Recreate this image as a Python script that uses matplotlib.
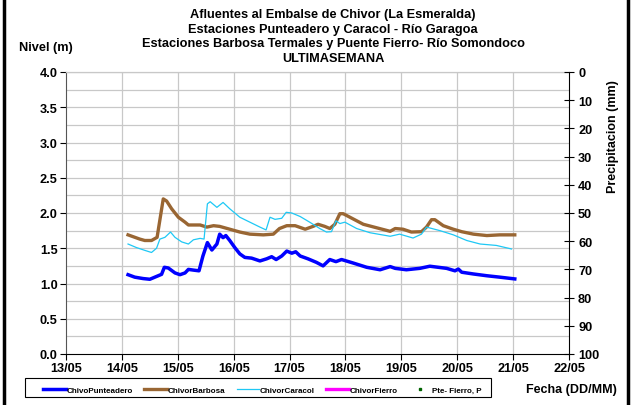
import matplotlib
matplotlib.use("Agg")
import matplotlib.pyplot as plt
from matplotlib.lines import Line2D
from matplotlib.patches import Rectangle

plt.rcParams['font.family'] = ['Liberation Sans', 'DejaVu Sans']
plt.rcParams['font.weight'] = 'bold'

# Fechas en días de mayo (fracción = hora del día)
punteadero_t = [14.11, 14.23, 14.38, 14.50, 14.62, 14.71, 14.76, 14.83, 14.95, 15.04,
                15.13, 15.19, 15.28, 15.38, 15.45, 15.53, 15.61, 15.70, 15.75, 15.81,
                15.86, 15.93, 16.02, 16.11, 16.20, 16.32, 16.47, 16.59, 16.68, 16.76,
                16.86, 16.95, 17.04, 17.11, 17.19, 17.33, 17.48, 17.60, 17.72, 17.83,
                17.93, 18.14, 18.38, 18.62, 18.80, 18.89, 19.09, 19.33, 19.51, 19.81,
                19.96, 20.02, 20.08, 20.29, 20.53, 20.76, 21.03]
punteadero_v = [1.125, 1.09, 1.07, 1.06, 1.10, 1.13, 1.23, 1.22, 1.15, 1.125,
                1.15, 1.20, 1.19, 1.18, 1.39, 1.58, 1.475, 1.56, 1.70, 1.65,
                1.68, 1.61, 1.51, 1.42, 1.37, 1.36, 1.32, 1.35, 1.38, 1.34,
                1.39, 1.46, 1.43, 1.45, 1.39, 1.35, 1.30, 1.25, 1.34, 1.31,
                1.34, 1.29, 1.23, 1.195, 1.24, 1.215, 1.195, 1.215, 1.245, 1.215,
                1.18, 1.205, 1.16, 1.135, 1.11, 1.09, 1.065]

barbosa_t = [14.11, 14.32, 14.41, 14.53, 14.63, 14.74, 14.80, 14.89, 15.01, 15.13,
             15.19, 15.40, 15.52, 15.64, 15.75, 15.93, 16.11, 16.29, 16.53, 16.71,
             16.82, 16.95, 17.10, 17.28, 17.42, 17.51, 17.63, 17.72, 17.81, 17.90,
             17.96, 18.08, 18.32, 18.56, 18.80, 18.89, 19.03, 19.18, 19.36, 19.45,
             19.54, 19.60, 19.75, 19.93, 20.08, 20.29, 20.53, 20.76, 21.03]
barbosa_v = [1.69, 1.63, 1.61, 1.61, 1.655, 2.20, 2.17, 2.06, 1.94, 1.87,
             1.83, 1.83, 1.80, 1.82, 1.81, 1.77, 1.73, 1.70, 1.69, 1.70,
             1.78, 1.82, 1.82, 1.77, 1.81, 1.84, 1.81, 1.78, 1.84, 1.99,
             1.99, 1.94, 1.84, 1.79, 1.74, 1.78, 1.77, 1.73, 1.735, 1.80,
             1.905, 1.905, 1.82, 1.77, 1.735, 1.70, 1.68, 1.69, 1.69]

caracol_t = [14.11, 14.26, 14.41, 14.53, 14.62, 14.68, 14.77, 14.87, 14.95, 15.07,
             15.19, 15.28, 15.40, 15.47, 15.53, 15.58, 15.70, 15.81, 15.93, 16.11,
             16.29, 16.47, 16.58, 16.65, 16.74, 16.86, 16.94, 17.04, 17.19, 17.36,
             17.54, 17.66, 17.75, 17.83, 17.90, 17.99, 18.20, 18.44, 18.80, 18.97,
             19.21, 19.36, 19.45, 19.69, 19.93, 20.17, 20.41, 20.70, 20.97]
caracol_v = [1.56, 1.51, 1.47, 1.44, 1.50, 1.63, 1.655, 1.73, 1.655, 1.59,
             1.56, 1.62, 1.64, 1.63, 2.13, 2.16, 2.08, 2.15, 2.06, 1.94,
             1.87, 1.80, 1.76, 1.94, 1.91, 1.925, 2.01, 2.00, 1.95, 1.87,
             1.78, 1.73, 1.735, 1.89, 1.85, 1.87, 1.78, 1.72, 1.67, 1.70,
             1.645, 1.70, 1.80, 1.75, 1.69, 1.61, 1.56, 1.54, 1.49]

fecha_ticks = [13, 14, 15, 16, 17, 18, 19, 20, 21, 22]
fecha_labels = ["13/05", "14/05", "15/05", "16/05", "17/05",
                "18/05", "19/05", "20/05", "21/05", "22/05"]
nivel_ticks = [0.0, 0.5, 1.0, 1.5, 2.0, 2.5, 3.0, 3.5, 4.0]
precip_ticks = [0, 10, 20, 30, 40, 50, 60, 70, 80, 90, 100]

fig = plt.figure(figsize=(6.32, 4.06), dpi=100)
ax = fig.add_axes([66 / 632, 51 / 406, 503 / 632, 282 / 406])

grid_c = '#c8c8c8'
for v in [i * 0.25 for i in range(1, 17)]:
    ax.axhline(v, color=grid_c, lw=0.9, zorder=0)
for d in fecha_ticks[1:-1]:
    ax.axvline(d, color=grid_c, lw=0.9, zorder=0)

l1, = ax.plot(punteadero_t, punteadero_v, color='#0000ff', lw=2.5, zorder=3,
              solid_joinstyle='round')
l2, = ax.plot(barbosa_t, barbosa_v, color='#996633', lw=2.4, zorder=2,
              solid_joinstyle='round')
l3, = ax.plot(caracol_t, caracol_v, color='#1ec8f5', lw=0.9, zorder=2.5)
l4 = Line2D([], [], color='#ff00ff', lw=2.4)
l5 = Line2D([], [], color='#006400', lw=0, marker='s', markersize=2)

ax.set_xlim(13, 22)
ax.set_ylim(0, 4.0)
ax.set_xticks(fecha_ticks)
ax.set_xticklabels(fecha_labels)
ax.set_yticks(nivel_ticks)
ax.set_yticklabels([f"{v:.1f}" for v in nivel_ticks])
ax.tick_params(axis='y', direction='out', length=4, width=0.8, labelsize=9.2, pad=2)
ax.tick_params(axis='x', direction='out', length=4, width=0.8, labelsize=9.2, pad=2)
for lab in ax.get_xticklabels() + ax.get_yticklabels():
    lab.set_fontweight('bold')
ax.spines['top'].set_color(grid_c)
ax.spines['top'].set_linewidth(0.9)
ax.spines['left'].set_color('#555555')
ax.spines['bottom'].set_color('#000000')
ax.spines['right'].set_visible(False)

ax2 = ax.twinx()
ax2.set_ylim(100, 0)
ax2.set_yticks(precip_ticks)
ax2.set_yticklabels([str(v) for v in precip_ticks])
ax2.tick_params(axis='y', direction='inout', length=7, width=0.8, labelsize=9.2, pad=3)
for lab in ax2.get_yticklabels():
    lab.set_fontweight('bold')
for s in ['top', 'left', 'bottom']:
    ax2.spines[s].set_visible(False)
ax2.spines['right'].set_color('#000000')

titulo = ["Afluentes al Embalse de Chivor (La Esmeralda)",
          "Estaciones Punteadero y Caracol - Río Garagoa",
          "Estaciones Barbosa Termales y Puente Fierro- Río Somondoco",
          "ULTIMASEMANA"]
for i, t in enumerate(titulo):
    fig.text(333 / 632, 1 - (15 + 14.7 * i) / 406, t, ha='center', va='center',
             fontsize=9.2, fontweight='bold')

fig.text(19 / 632, 1 - 48 / 406, "Nivel (m)", ha='left', va='center',
         fontsize=9.2, fontweight='bold')
fig.text(613 / 632, 1 - 137 / 406, "Precipitacion (mm)", ha='center', va='center',
         rotation=90, fontsize=9, fontweight='bold')
fig.text(571 / 632, 1 - 390 / 406, "Fecha (DD/MM)", ha='center', va='center',
         fontsize=9, fontweight='bold')

# Leyenda: caja dibujada aparte, entradas repartidas dentro de ella
fig.add_artist(Rectangle((25 / 632, 8 / 406), 466 / 632, 19 / 406,
                         transform=fig.transFigure, fill=False,
                         edgecolor='#000000', lw=0.8))
leg = fig.legend([l1, l2, l3, l4, l5],
                 ["ChivoPunteadero", "ChivorBarbosa", "ChivorCaracol",
                  "ChivorFierro", "Pte- Fierro, P"],
                 loc='lower left', bbox_to_anchor=(40 / 632, 8 / 406, 445 / 632, 19 / 406),
                 mode='expand', ncol=5, fontsize=5.8, frameon=False,
                 handlelength=2.8, handletextpad=0.1, borderpad=0.4,
                 borderaxespad=0, columnspacing=0.8)
for t in leg.get_texts():
    t.set_fontweight('bold')

# Marco lateral de la figura
fig.add_artist(Line2D([4 / 632, 4 / 632], [0, 1], color='black', lw=2.5))
fig.add_artist(Line2D([628 / 632, 628 / 632], [0, 1], color='black', lw=2.5))

fig.savefig("out.png", dpi=100)
